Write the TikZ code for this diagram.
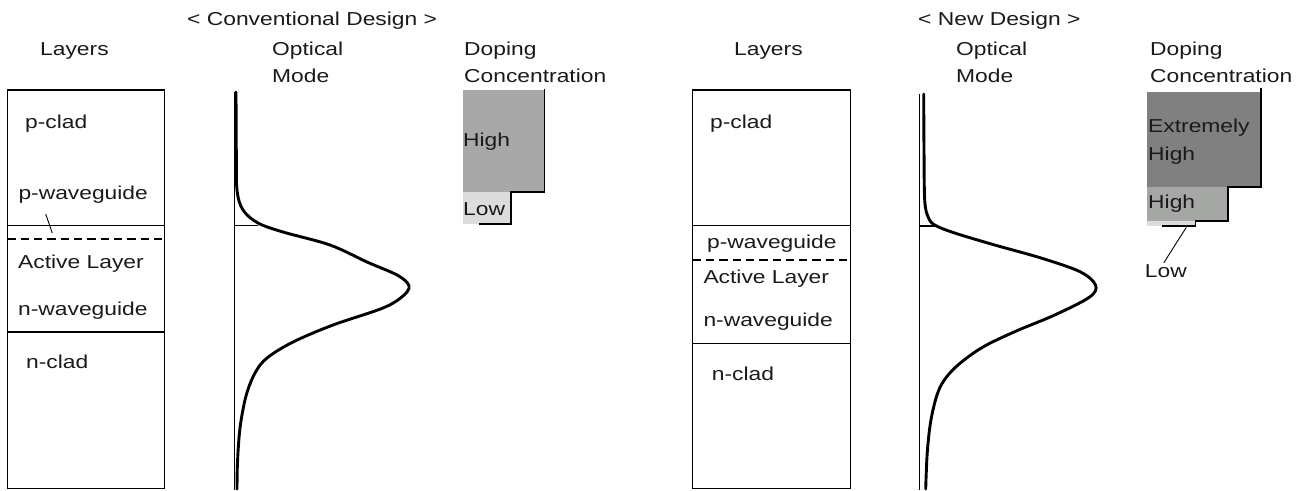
\documentclass[tikz,border=0pt]{standalone}
\usepackage{fontspec}
\setmainfont{Liberation Sans}[FakeStretch=1.22]
\definecolor{dopelow}{HTML}{DCDCDC}
\definecolor{dopehigh}{HTML}{A8A8A8}
\definecolor{dopehighb}{HTML}{A5A7A5}
\definecolor{dopeext}{HTML}{808080}
\definecolor{ink}{HTML}{1A1A1A}
\begin{document}
\begin{tikzpicture}[x=1pt,y=-1pt,
  lbl/.style={anchor=base west,inner sep=0pt,text=ink,font=\fontsize{18.7}{22}\selectfont},
  layer/.style={line width=1.55pt},
  sep/.style={line width=1.45pt,dash pattern=on 8.3pt off 5pt},
  modecurve/.style={line width=2.9pt,line join=round,line cap=round},
  axisline/.style={line width=1.55pt},
  shadeedge/.style={line width=1.9pt,line join=miter},
  leader/.style={line width=0.9pt}]
\useasboundingbox (0,0) rectangle (1303,490);

% ---------------- Conventional design ----------------
\node[lbl] (titleA) at (187,25) {< Conventional Design >};
\node[lbl] (layersA) at (40,55) {Layers};
\node[lbl] (opticalA) at (272,55) {Optical};
\node[lbl] (modeA) at (272,82) {Mode};
\node[lbl] (dopingA) at (464,55) {Doping};
\node[lbl] (concA) at (464,82) {Concentration};

% layer stack
\draw[layer] (7.5,90) rectangle (164.5,488.5);
\draw[layer] (7.5,225.7) -- (164.5,225.7);
\draw[sep] (7.5,239) -- (164.5,239);
\draw[layer] (7.5,332) -- (164.5,332);
\node[lbl] (pcladA) at (25,128.3) {p-clad};
\node[lbl] (pwgA) at (18.3,199) {p-waveguide};
\node[lbl] (activeA) at (18,268.3) {Active Layer};
\node[lbl] (nwgA) at (18,315.7) {n-waveguide};
\node[lbl] (ncladA) at (26,368.3) {n-clad};
\coordinate (pwgAtip) at (52.3,233);
\draw[leader] (pwgA.south west) ++(27.4,11) coordinate (pwgAfoot) -- (pwgAtip);

% optical mode
\draw[axisline] (234.5,92) -- (234.5,490);
\draw[axisline] (234.5,225.7) -- (258,225.7);
\draw[modecurve] plot[smooth,tension=0.55] coordinates {
  (236,92) (236.3,150) (237,190) (243,210) (258,223) (283,232) (330,245)
  (367,262) (398,275.5) (409,286) (403,296) (383,308) (333,325) (293,342)
  (267,358) (255,373) (246,396) (240,428) (237.5,462) (237,489)};

% doping profile
\fill[dopehigh] (462.7,90) rectangle (544,192);
\fill[dopelow] (462.7,192) rectangle (511,223.5);
\draw[shadeedge] (544.5,88.5) -- (544.5,192.3) -- (511,192.3) -- (511,224) -- (478.5,224);
\node[lbl] (highA) at (463,146.7) {High};
\node[lbl] (lowA) at (463,215) {Low};

% ---------------- New design ----------------
\node[lbl] (titleB) at (918,25) {< New Design >};
\node[lbl] (layersB) at (734,55) {Layers};
\node[lbl] (opticalB) at (956,55) {Optical};
\node[lbl] (modeB) at (956,82) {Mode};
\node[lbl] (dopingB) at (1150,55) {Doping};
\node[lbl] (concB) at (1150,82) {Concentration};

% layer stack
\draw[layer] (692.7,90) rectangle (850.3,488.5);
\draw[layer] (692.7,225.7) -- (850.3,225.7);
\draw[sep] (692.7,260) -- (850.3,260);
\draw[layer] (692.7,343.3) -- (850.3,343.3);
\node[lbl] (pcladB) at (710,128.3) {p-clad};
\node[lbl] (pwgB) at (707,248) {p-waveguide};
\node[lbl] (activeB) at (703.3,283.3) {Active Layer};
\node[lbl] (nwgB) at (703.3,326.7) {n-waveguide};
\node[lbl] (ncladB) at (711.7,380) {n-clad};

% optical mode
\draw[axisline] (919.7,94) -- (919.7,490);
\draw[axisline] (919.7,226) -- (934.7,226);
\draw[modecurve] plot[smooth,tension=0.55] coordinates {
  (923.7,94) (924,150) (924.7,200) (928,216.7) (934.7,225) (954.7,233)
  (994.7,245) (1041,258) (1080,271.7) (1095.5,285) (1089.7,297) (1054.7,315)
  (1014.7,331.7) (981.3,348) (954.7,368) (939.7,388) (931.3,418) (927.3,452)
  (925.7,489)};

% doping profile
\fill[dopeext] (1147.3,91.7) rectangle (1261,187);
\fill[dopehighb] (1147.3,187) rectangle (1228,221);
\fill[dopelow] (1147.3,221) rectangle (1195,226);
\draw[shadeedge] (1261,87.5) -- (1261,187) -- (1228,187) -- (1228,221)
  -- (1195.5,221) -- (1195.5,226) -- (1162,226);
\node[lbl] (extB) at (1148,132.7) {Extremely};
\node[lbl] (ehighB) at (1148,160) {High};
\node[lbl] (highB) at (1148,208.3) {High};
\node[lbl] (lowB) at (1144.7,277.3) {Low};
\coordinate (lowBtip) at (1186.3,227.3);
\draw[leader] (lowB.north) ++(-2,-1.5) -- (lowBtip);
\end{tikzpicture}
\end{document}
